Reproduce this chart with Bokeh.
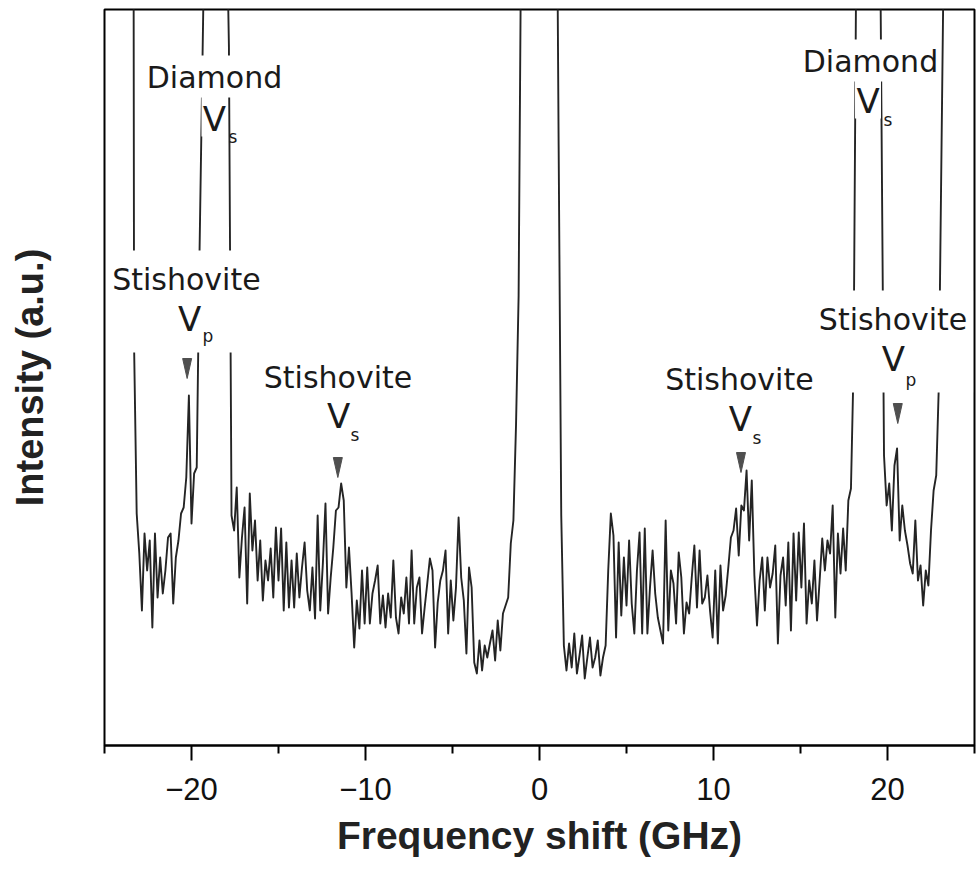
import numpy as np
from bokeh.plotting import figure
from bokeh.models import Range1d, FixedTicker, ColumnDataSource
from bokeh.core.properties import value
from bokeh.embed import file_html
from bokeh.resources import INLINE

# Brillouin spectrum of stishovite in a diamond-anvil cell (intensity in a.u.)
STEP = 0.15  # GHz between spectrometer channels

# anti-Stokes wing outside the diamond shear line
wing_left_start = -23.30
wing_left = [400, 232, 192, 135, 212, 175, 205, 118, 212, 148,
             188, 152, 175, 208, 212, 142, 188, 205, 232, 238,
             268, 350, 222, 272, 278, 480]

# anti-Stokes side between diamond line and Rayleigh line
anti_stokes_start = -17.85
anti_stokes = [700, 230, 215, 258, 168, 208, 238, 142, 252, 195,
               225, 165, 205, 145, 185, 165, 197, 148, 218, 165,
               217, 135, 203, 138, 185, 138, 192, 148, 178, 203,
               155, 135, 178, 127, 230, 135, 182, 242, 132, 168,
               198, 235, 238, 262, 245, 158, 198, 152, 98, 145,
               117, 175, 122, 178, 122, 152, 165, 180, 122, 150,
               118, 152, 128, 185, 128, 112, 148, 132, 168, 122,
               195, 122, 158, 168, 112, 138, 162, 187, 175, 98,
               143, 165, 175, 195, 112, 165, 125, 158, 228, 168,
               145, 92, 178, 158, 83, 72, 105, 75, 100, 88,
               102, 115, 85, 125, 95, 132, 140, 148, 202, 225,
               320, 450]

# Stokes side between Rayleigh line and diamond line
stokes_start = 1.10
stokes = [600, 230, 100, 75, 102, 78, 112, 72, 90, 110,
          67, 88, 108, 78, 88, 105, 70, 88, 100, 175,
          232, 210, 108, 203, 130, 188, 140, 205, 142, 112,
          175, 213, 112, 217, 112, 158, 195, 152, 128, 115,
          102, 225, 115, 175, 162, 122, 193, 168, 112, 143,
          132, 168, 200, 138, 195, 142, 148, 170, 135, 108,
          175, 102, 180, 135, 150, 178, 208, 215, 237, 190,
          240, 235, 275, 205, 265, 170, 120, 165, 188, 135,
          188, 158, 172, 200, 102, 170, 188, 140, 203, 115,
          212, 145, 213, 158, 222, 122, 165, 142, 185, 125,
          165, 207, 175, 205, 192, 240, 128, 212, 172, 217,
          175, 245, 257, 380]

# Stokes wing outside the diamond shear line
wing_right_start = 19.80
wing_right = [290, 240, 262, 215, 280, 297, 205, 240, 215, 200,
              182, 172, 225, 165, 180, 140, 175, 160, 215, 255,
              270, 360]

# strong lines (diamond, Rayleigh) that run far off scale, plus the end points
strong_freq = [-23.45, -18.65, 0.0, 18.85, 23.25]
strong_int = [2500, 1500, 3500, 2500, 820]

# peak markers
arrow_freq = [-20.25, -11.59, 11.58, 20.59]
arrow_tip = [367, 268, 273, 322]

# peak annotations
block_text = ["Diamond", "Stishovite", "Stishovite", "Diamond", "Stishovite", "Stishovite"]
block_x = [-18.68, -20.29, -11.58, 19.02, 11.49, 20.32]
block_y = [668, 466, 368, 684, 366, 426]
v_x = [-18.68, -20.11, -11.55, 18.88, 11.55, 20.34]
v_y = [627, 427, 330, 645, 327, 387]
sub_text = ["s", "p", "s", "s", "s", "p"]
sub_x = [-17.87, -19.37, -10.86, 19.77, 12.24, 21.03]
sub_y = [609, 410, 311, 626, 308, 366]

# ---- assemble the spectrum ----
segments = [(wing_left_start, wing_left), (anti_stokes_start, anti_stokes),
            (stokes_start, stokes), (wing_right_start, wing_right)]
freq = [strong_freq[0]]
inten = [strong_int[0]]
for i, (start, vals) in enumerate(segments):
    freq += list(np.round(start + STEP * np.arange(len(vals)), 3))
    inten += list(vals)
    freq.append(strong_freq[i + 1])
    inten.append(strong_int[i + 1])

X0, X1 = -25, 25
Y0, Y1 = 0, 736
W, H = 977, 871
ML, MR, MT, MB = 104, 3, 9, 126
px_per_ghz = (W - ML - MR) / (X1 - X0)

p = figure(width=W, height=H, output_backend="svg", toolbar_location=None,
           x_range=Range1d(X0, X1), y_range=Range1d(Y0, Y1),
           min_border_left=ML, min_border_right=MR, min_border_top=MT,
           min_border_bottom=MB)
p.background_fill_color = "white"
p.border_fill_color = "white"
p.outline_line_color = "black"
p.outline_line_width = 2
p.xgrid.visible = False
p.ygrid.visible = False

p.line(freq, inten, line_color="#242424", line_width=1.9, line_join="round")

# white backing behind the annotation text, so lines pass underneath it
box_l, box_r, box_t, box_b = [], [], [], []
for t, x, y in zip(block_text, block_x, block_y):
    if t == "Stishovite":
        half, up, down = 80, 29, 73
    else:
        half, up, down = 66, 22, 20
    box_l.append(x - half / px_per_ghz)
    box_r.append(x + half / px_per_ghz)
    box_t.append(y + up)
    box_b.append(y - down)
for t, x, y in zip(block_text, v_x, v_y):
    if t == "Diamond":
        box_l.append(x - 13 / px_per_ghz)
        box_r.append(x + 13 / px_per_ghz)
        box_t.append(y + 23)
        box_b.append(y - 18)
p.quad(left=box_l, right=box_r, top=box_t, bottom=box_b,
       fill_color="white", line_color=None)

# downward triangles marking the stishovite peaks
half_w = 4.5 / px_per_ghz
tri_h = 20
xs = [[f - half_w, f + half_w, f] for f in arrow_freq]
ys = [[t + tri_h, t + tri_h, t] for t in arrow_tip]
p.patches(xs, ys, fill_color="#4f4f4f", line_color="#4f4f4f", line_width=1)

txt_color = "#1a1a1a"
p.text(x="x", y="y", text="text",
       source=ColumnDataSource(dict(x=block_x, y=block_y, text=block_text)),
       text_font=value("DejaVu Sans"), text_font_size=value("30px"),
       text_align="center", text_baseline="alphabetic", text_color=txt_color)
p.text(x="x", y="y", text="text",
       source=ColumnDataSource(dict(x=v_x, y=v_y, text=["V"] * len(v_x))),
       text_font=value("DejaVu Sans"), text_font_size=value("34px"),
       text_align="center", text_baseline="alphabetic", text_color=txt_color)
p.text(x="x", y="y", text="text",
       source=ColumnDataSource(dict(x=sub_x, y=sub_y, text=sub_text)),
       text_font=value("DejaVu Sans"), text_font_size=value("17px"),
       text_align="left", text_baseline="alphabetic", text_color=txt_color)

# x axis
xa = p.xaxis[0]
xa.ticker = FixedTicker(ticks=[-20, -10, 0, 10, 20], minor_ticks=[-25, -15, -5, 5, 15, 25])
xa.major_label_overrides = {-20: "\u221220", -10: "\u221210", 0: "0", 10: "10", 20: "20"}
xa.axis_line_width = 2
xa.major_tick_line_width = 2
xa.minor_tick_line_width = 2
xa.major_tick_out = 15
xa.major_tick_in = 0
xa.minor_tick_out = 8
xa.minor_tick_in = 0
xa.major_label_standoff = 17
xa.major_label_text_font = "Liberation Sans"
xa.major_label_text_font_size = "31px"
xa.major_label_text_color = "#111111"
xa.axis_label = "Frequency shift (GHz)"
xa.axis_label_text_font = "Liberation Sans"
xa.axis_label_text_font_style = "bold"
xa.axis_label_text_font_size = "39px"
xa.axis_label_text_color = "#222222"
xa.axis_label_standoff = 11

# y axis: label only
ya = p.yaxis[0]
ya.ticker = FixedTicker(ticks=[])
ya.axis_line_color = None
ya.major_tick_line_color = None
ya.minor_tick_line_color = None
ya.axis_label = "Intensity (a.u.)"
ya.axis_label_text_font = "Liberation Sans"
ya.axis_label_text_font_style = "bold"
ya.axis_label_text_font_size = "38px"
ya.axis_label_text_color = "#222222"
ya.axis_label_standoff = 54

open("out.html", "w").write(file_html(p, INLINE))
